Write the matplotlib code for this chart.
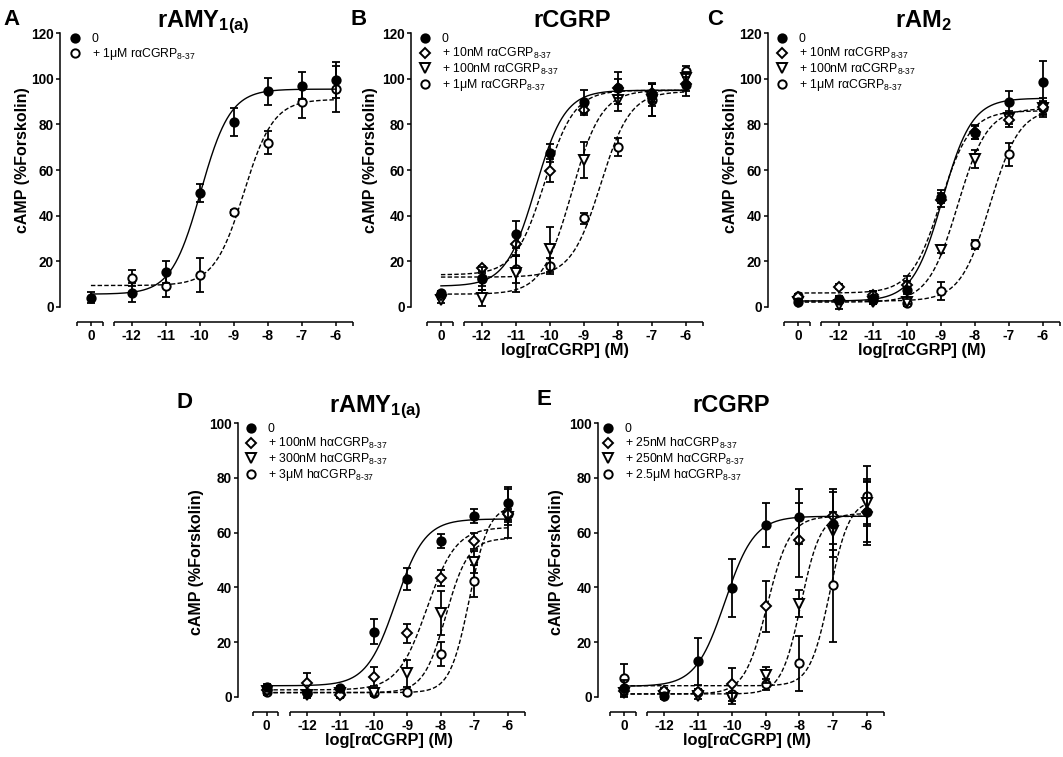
import numpy as np
import matplotlib
matplotlib.use("Agg")
import matplotlib.pyplot as plt

plt.rcParams['font.family'] = ['Liberation Sans', 'DejaVu Sans']
plt.rcParams['mathtext.fontset'] = 'custom'
plt.rcParams['mathtext.rm'] = 'Liberation Sans'
plt.rcParams['mathtext.it'] = 'Liberation Sans:italic'
plt.rcParams['mathtext.bf'] = 'Liberation Sans:bold'

# ---------------- data ----------------
X_LABELS = ['0', '-12', '-11', '-10', '-9', '-8', '-7', '-6']
X_LOG = [-13.2, -12, -11, -10, -9, -8, -7, -6]      # "0" (no agonist) sits on the axis stub
nan = np.nan

# Panel A  rAMY1(a)
A_ctrl = [4.0, 6.2, 15.2, 50.0, 81.0, 94.5, 97.0, 99.5]
A_ctrl_err = [2.5, 4.0, 5.0, 4.0, 6.0, 6.0, 6.0, 8.0]
A_1uM = [nan, 12.4, 9.2, 14.0, 41.4, 72.0, 89.7, 95.5]
A_1uM_err = [nan, 3.5, 5.0, 7.5, 1.0, 5.0, 7.0, 10.0]
A_fit_bottom = [5.5, 9.3]
A_fit_top = [95.5, 91.0]
A_fit_logec50 = [-9.97, -8.7]
A_fit_hill = [1.0, 1.0]
A_labels = ['0', r'+ 1μM rαCGRP$_{\text{8-37}}$']

# Panel B  rCGRP
B_ctrl = [5.8, 12.4, 31.8, 67.3, 90.0, 95.8, 93.0, 97.3]
B_ctrl_err = [1.0, 5.0, 6.0, 4.0, 5.0, 7.0, 5.0, 5.0]
B_10nM = [5.0, 16.8, 27.4, 59.7, 86.3, 95.8, 93.7, 97.6]
B_10nM_err = [1.0, 1.0, 5.0, 5.0, 2.0, 4.0, 4.0, 3.0]
B_100nM = [3.0, 4.0, 14.6, 25.2, 64.4, 90.7, 90.7, 100.2]
B_100nM_err = [1.5, 3.5, 8.0, 10.0, 8.0, 5.0, 7.0, 3.0]
B_1uM = [5.0, 12.0, 16.4, 18.0, 38.8, 70.2, 90.7, 103.5]
B_1uM_err = [1.5, 3.0, 6.0, 3.5, 2.5, 4.0, 7.0, 2.0]
B_fit_bottom = [9.0, 14.0, 5.5, 13.0]
B_fit_top = [95.0, 95.0, 95.0, 94.5]
B_fit_logec50 = [-10.42, -10.15, -9.35, -8.5]
B_fit_hill = [1.0, 1.0, 1.0, 1.0]
B_labels = ['0', r'+ 10nM rαCGRP$_{\text{8-37}}$', r'+ 100nM rαCGRP$_{\text{8-37}}$',
            r'+ 1μM rαCGRP$_{\text{8-37}}$']

# Panel C  rAM2
C_ctrl = [2.2, 3.0, 4.0, 7.3, 48.3, 76.4, 89.7, 98.8]
C_ctrl_err = [1.0, 1.5, 3.0, 4.0, 3.0, 3.0, 5.0, 9.0]
C_10nM = [4.4, 8.8, 5.0, 9.5, 46.8, 76.8, 82.0, 87.5]
C_10nM_err = [1.0, 1.0, 2.0, 4.0, 3.0, 3.0, 3.0, 3.0]
C_100nM = [2.2, 0.7, 2.2, 2.2, 24.9, 64.7, 83.0, 87.0]
C_100nM_err = [1.0, 1.5, 1.0, 1.0, 1.5, 4.0, 3.0, 3.0]
C_1uM = [4.5, 3.5, 3.0, 1.5, 6.9, 27.4, 66.9, 87.4]
C_1uM_err = [1.0, 1.0, 1.0, 1.0, 4.0, 2.0, 5.0, 4.0]
C_fit_bottom = [2.5, 6.0, 2.0, 2.5]
C_fit_top = [91.5, 86.0, 87.0, 87.0]
C_fit_logec50 = [-8.95, -9.0, -8.5, -7.55]
C_fit_hill = [1.0, 1.0, 1.0, 1.0]
C_labels = B_labels

# Panel D  rAMY1(a), hαCGRP8-37
D_ctrl = [3.7, 1.5, 3.0, 23.8, 43.0, 57.0, 66.0, 70.7]
D_ctrl_err = [1.0, 1.0, 1.0, 4.5, 4.0, 2.5, 2.5, 6.0]
D_100nM = [2.5, 5.0, 0.6, 7.3, 23.2, 43.5, 57.0, 67.0]
D_100nM_err = [1.0, 3.5, 1.0, 3.5, 3.5, 3.0, 3.0, 3.0]
D_300nM = [2.0, 0.5, 1.2, 1.2, 8.5, 30.5, 49.4, 65.8]
D_300nM_err = [1.0, 1.0, 1.0, 1.0, 5.0, 8.0, 4.0, 3.0]
D_3uM = [1.8, 1.5, 1.0, 1.5, 1.6, 15.6, 42.3, 67.0]
D_3uM_err = [1.0, 1.0, 1.0, 1.0, 1.0, 4.5, 6.0, 9.0]
D_fit_bottom = [4.0, 2.5, 1.5, 1.5]
D_fit_top = [65.0, 62.0, 58.0, 70.0]
D_fit_logec50 = [-9.35, -8.42, -7.85, -7.15]
D_fit_hill = [1.0, 1.0, 1.3, 1.5]
D_labels = ['0', r'+ 100nM hαCGRP$_{\text{8-37}}$', r'+ 300nM hαCGRP$_{\text{8-37}}$',
            r'+ 3μM hαCGRP$_{\text{8-37}}$']

# Panel E  rCGRP, hαCGRP8-37
E_ctrl = [3.0, 0.3, 12.9, 39.8, 62.8, 65.9, 63.0, 67.6]
E_ctrl_err = [3.0, 1.0, 8.5, 10.5, 8.0, 10.0, 12.0, 12.0]
E_25nM = [2.0, 2.0, 1.8, 4.5, 33.0, 57.2, 66.0, 67.6]
E_25nM_err = [1.0, 1.0, 1.0, 6.0, 9.5, 13.5, 10.0, 11.0]
E_250nM = [1.2, 0.3, 0.3, -0.5, 8.0, 34.0, 60.5, 71.0]
E_250nM_err = [1.0, 1.0, 1.0, 2.0, 3.0, 5.0, 7.0, 8.0]
E_2500nM = [7.0, 1.8, 1.8, 0.9, 4.5, 12.2, 41.0, 73.4]
E_2500nM_err = [5.0, 1.0, 1.0, 1.0, 2.0, 10.0, 21.0, 11.0]
E_fit_bottom = [3.8, 1.0, 1.0, 4.0]
E_fit_top = [66.0, 66.0, 67.0, 72.0]
E_fit_logec50 = [-10.2, -8.95, -7.95, -7.1]
E_fit_hill = [1.0, 1.3, 1.5, 1.5]
E_labels = ['0', r'+ 25nM hαCGRP$_{\text{8-37}}$', r'+ 250nM hαCGRP$_{\text{8-37}}$',
            r'+ 2.5μM hαCGRP$_{\text{8-37}}$']

# ---------------- styles ----------------
FILLED = ('o', 'black', 6.0)
DIAMOND = ('D', 'white', 5.0)
TRIANGLE = ('v', 'white', 6.5)
CIRCLE = ('o', 'white', 6.0)
MARKERS_2 = [FILLED, CIRCLE]
MARKERS_4 = [FILLED, DIAMOND, TRIANGLE, CIRCLE]
DASH = (0, (3.2, 1.6))

W, H = 1063, 757
fig = plt.figure(figsize=(W / 100, H / 100), dpi=100)
XMIN, XMAX = -13.61, -5.49
STUB = (-13.61, -12.85)
MAIN = (-12.52, -5.49)
PX = 100 / 72.0   # pixels per point


def make_axes(left, top, width, height):
    return fig.add_axes([left / W, 1 - (top + height) / H, width / W, height / H])


def sigmoid(x, b, t, ec, h):
    return b + (t - b) / (1.0 + 10 ** ((ec - x) * h))


def draw_panel(ax, means, errs, bottoms, tops, ecs, hills, labels, markers, ymax, yout, show_xlabel):
    n = len(means)
    xs = np.linspace(X_LOG[0], X_LOG[-1], 400)
    handles = []
    for i in range(n):
        z = 10 + (n - i) * 3
        mk, fc, ms = markers[i]
        ax.plot(xs, sigmoid(xs, bottoms[i], tops[i], ecs[i], hills[i]), color='black',
                lw=1.0, ls='-' if i == 0 else DASH, zorder=z, clip_on=False)
        eb = ax.errorbar(X_LOG, means[i], yerr=errs[i], fmt='none', ecolor='black',
                         elinewidth=1.3, capsize=3.0, capthick=1.3, zorder=z + 1)
        for art in eb.get_children():
            art.set_clip_on(False)
        ln, = ax.plot(X_LOG, means[i], ls='none', marker=mk, ms=ms, mfc=fc, mec='black',
                      mew=1.4, zorder=z + 2, clip_on=False)
        handles.append(ln)
    ax.set_xlim(XMIN, XMAX)
    ax.set_ylim(0, ymax)
    for s in ('top', 'right'):
        ax.spines[s].set_visible(False)
    ax.spines['left'].set_position(('outward', yout / PX))
    ax.spines['left'].set_bounds(0, ymax)
    ax.spines['left'].set_linewidth(1.1)
    ax.spines['bottom'].set_position(('outward', 15 / PX))
    ax.spines['bottom'].set_visible(False)
    tr = ax.get_xaxis_transform(which='tick1')
    for seg in (STUB, MAIN):
        ax.plot(seg, [0, 0], color='black', lw=1.1, transform=tr, clip_on=False,
                solid_capstyle='butt')
    ax.set_xticks(X_LOG)
    ax.set_xticklabels(X_LABELS)
    ax.set_xticks([STUB[0] + 0.005, STUB[1], MAIN[0], MAIN[1] - 0.005], minor=True)
    ax.set_yticks(np.arange(0, ymax + 1, 20))
    ax.tick_params(which='both', direction='out', length=3, width=1.1, labelsize=9.8, pad=2)
    ax.tick_params(axis='y', pad=1.5)
    for lab in ax.get_xticklabels() + ax.get_yticklabels():
        lab.set_fontweight('bold')
    if show_xlabel:
        ax.set_xlabel('log[rαCGRP] (M)', fontsize=11.8, fontweight='bold', labelpad=0.5)
    ax.legend(handles, labels, loc='upper left', bbox_to_anchor=(-0.028, 1.0),
              frameon=False, prop={'weight': 'normal', 'size': 8.8}, handlelength=1.0,
              handletextpad=0.85, labelspacing=0.05, borderaxespad=0, borderpad=0)


panels = [
    (make_axes(77, 33.3, 276, 273.4), [A_ctrl, A_1uM], [A_ctrl_err, A_1uM_err],
     A_fit_bottom, A_fit_top, A_fit_logec50, A_fit_hill, A_labels, MARKERS_2, 120, 17, False),
    (make_axes(427, 33.3, 276, 273.4), [B_ctrl, B_10nM, B_100nM, B_1uM],
     [B_ctrl_err, B_10nM_err, B_100nM_err, B_1uM_err],
     B_fit_bottom, B_fit_top, B_fit_logec50, B_fit_hill, B_labels, MARKERS_4, 120, 16, True),
    (make_axes(784, 33.3, 276, 273.4), [C_ctrl, C_10nM, C_100nM, C_1uM],
     [C_ctrl_err, C_10nM_err, C_100nM_err, C_1uM_err],
     C_fit_bottom, C_fit_top, C_fit_logec50, C_fit_hill, C_labels, MARKERS_4, 120, 16, True),
    (make_axes(253, 423.3, 272, 273.4), [D_ctrl, D_100nM, D_300nM, D_3uM],
     [D_ctrl_err, D_100nM_err, D_300nM_err, D_3uM_err],
     D_fit_bottom, D_fit_top, D_fit_logec50, D_fit_hill, D_labels, MARKERS_4, 100, 15, True),
    (make_axes(610, 423.3, 274, 273.4), [E_ctrl, E_25nM, E_250nM, E_2500nM],
     [E_ctrl_err, E_25nM_err, E_250nM_err, E_2500nM_err],
     E_fit_bottom, E_fit_top, E_fit_logec50, E_fit_hill, E_labels, MARKERS_4, 100, 12, True),
]
for p in panels:
    draw_panel(*p)

# titles, panel letters, y labels (figure pixel positions)
titles = [(203, 27, r'rAMY$_{\mathbf{1(a)}}$'), (572, 27, 'rCGRP'), (923, 27, r'rAM$_{\mathbf{2}}$'),
          (375, 411.7, r'rAMY$_{\mathbf{1(a)}}$'), (731, 411.7, 'rCGRP')]
for x, y, t in titles:
    fig.text(x / W, 1 - y / H, t, ha='center', va='baseline', fontsize=17, fontweight='bold')
letters = [(3, 25, 'A'), (350, 25, 'B'), (707, 25, 'C'), (176, 408, 'D'), (536, 405, 'E')]
for x, y, t in letters:
    fig.text(x / W, 1 - y / H, t, ha='left', va='baseline', fontsize=16, fontweight='bold')
ylabels = [(22.5, 160), (371, 160), (731, 160), (197, 562), (557, 562)]
for x, y in ylabels:
    fig.text(x / W, 1 - y / H, 'cAMP (%Forskolin)', rotation=90, ha='center', va='center',
             fontsize=11.5, fontweight='bold')

fig.savefig('out.png', dpi=100)
